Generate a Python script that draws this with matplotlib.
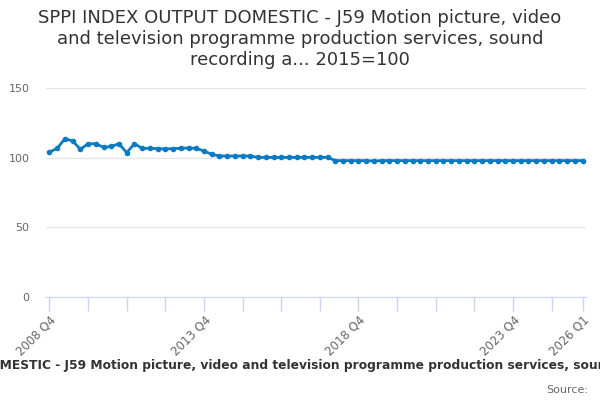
import matplotlib
matplotlib.use("Agg")
import matplotlib.pyplot as plt
import numpy as np

# quarters 2008 Q4 .. 2026 Q1
years = []
qs = []
y, q = 2008, 4
while (y, q) <= (2026, 1):
    years.append(y); qs.append(q)
    q += 1
    if q > 4:
        q = 1; y += 1
periods = [f"{a} Q{b}" for a, b in zip(years, qs)]

values = [104.0, 106.7, 113.6, 112.0, 106.0, 110.0, 110.0, 107.4, 108.1, 110.0,
          103.6, 110.0, 106.7, 106.7, 106.5, 106.2, 106.5, 106.7, 107.0, 106.7,
          104.8, 102.4, 101.2, 101.2, 101.2, 101.2, 101.2, 100.2, 100.2, 100.2,
          100.2, 100.2, 100.2, 100.2, 100.2, 100.2, 100.2, 97.9, 97.9, 97.9,
          97.9, 97.9, 97.6, 97.9, 97.9, 97.9, 97.9, 97.9, 97.9, 97.9,
          97.9, 97.9, 97.9, 97.9, 97.9, 97.9, 97.9, 97.9, 97.9, 97.9,
          97.9, 97.9, 97.9, 97.9, 97.9, 97.9, 97.9, 97.9, 97.9, 97.9]

label_periods = ["2008 Q4", "2013 Q4", "2018 Q4", "2023 Q4", "2026 Q1"]
yticks = [0, 50, 100, 150]

title = "SPPI INDEX OUTPUT DOMESTIC - J59 Motion picture, video\nand television programme production services, sound\nrecording a... 2015=100"
caption = "SPPI INDEX OUTPUT DOMESTIC - J59 Motion picture, video and television programme production services, sound recording and music publishing services"
caption_prefix = "SPPI INDEX OUTPUT DO"

fig = plt.figure(figsize=(6, 4), dpi=100)
ax = fig.add_axes([46/600, 1-297/400, 540/600, 209/400])

x = np.arange(len(values))
ax.plot(x, values, color="#0a7bc2", lw=2, marker="o", ms=3, zorder=3, clip_on=False)

ax.set_ylim(0, 150)
ax.set_xlim(-0.45, len(values) - 1 + 0.45)
ax.set_yticks(yticks)
ax.set_yticklabels([str(v) for v in yticks])
ax.yaxis.grid(True, color="#e6e6e6", lw=1)
ax.set_axisbelow(True)

tick_idx = list(range(0, len(values), 5))
if tick_idx[-1] != len(values) - 1:
    tick_idx.append(len(values) - 1)
ax.set_xticks(tick_idx)
ax.set_xticklabels([periods[i] if periods[i] in label_periods else "" for i in tick_idx],
                   rotation=45, ha="right", rotation_mode="anchor")

for s in ["top", "right", "left"]:
    ax.spines[s].set_visible(False)
ax.spines["bottom"].set_color("#ccd6eb")
ax.tick_params(axis="x", color="#ccd6eb", length=10, width=1, labelcolor="#666666", labelsize=8.5, pad=2)
ax.tick_params(axis="y", length=0, labelcolor="#666666", labelsize=8, pad=12)

fig.text(0.5, 0.978, title, ha="center", va="top", fontsize=13, color="#333333", linespacing=1.22)

cap = fig.text(0, 0.085, caption, ha="left", va="center", fontsize=8.8, fontweight="bold", color="#333333")
pre = fig.text(0, 0.5, caption_prefix, ha="left", va="center", fontsize=8.8, fontweight="bold", alpha=0)
fig.canvas.draw()
w = pre.get_window_extent().width
cap.set_x(-w / fig.bbox.width)
pre.remove()

fig.text(0.98, 0.025, "Source:", ha="right", va="center", fontsize=8, color="#666666")

fig.savefig("out.png", dpi=100)
